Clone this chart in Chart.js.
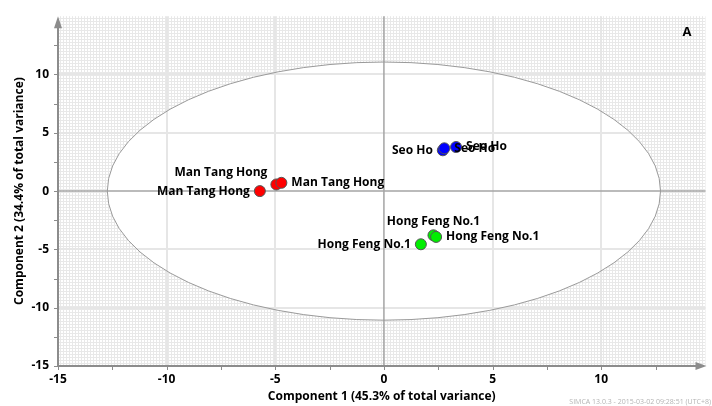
<!DOCTYPE html>
<html lang="en">
<head>
<meta charset="UTF-8">
<title>PCA Score Plot</title>
<style>
  html, body { margin: 0; padding: 0; background: #fff; }
  #wrap { width: 712px; height: 406px; }
</style>
</head>
<body>
<div id="wrap"><canvas id="score-plot" width="712" height="406"></canvas></div>

<script src="https://cdn.jsdelivr.net/npm/chart.js"></script>
<script>
// axis ticks
const xTicks = [-15, -10, -5, 0, 5, 10];
const yTicks = [-15, -10, -5, 0, 5, 10];
const minorTicks = [-12.5, -7.5, -2.5, 2.5, 7.5, 12.5];

// score values t[1], t[2] per cultivar
const manTangX = [-5.71, -4.95, -4.72];
const manTangY = [0.00, 0.57, 0.71];
const seoHoX = [2.71, 2.78, 3.32];
const seoHoY = [3.50, 3.67, 3.78];
const hongFengX = [1.70, 2.28, 2.40];
const hongFengY = [-4.56, -3.79, -3.93];

// label placement next to each point
const manTangSide = ['left', 'aboveLeft', 'right'];
const seoHoSide = ['left', 'right', 'right'];
const hongFengSide = ['left', 'above', 'right'];

// Hotelling T2 ellipse half-axes
const ellipseRadii = [12.73, 11.07];

const FONT = '"Open Sans", "DejaVu Sans", sans-serif';

function toPoints(xs, ys) {
    return xs.map((x, i) => ({ x: x, y: ys[i] }));
}

function makeSet(name, xs, ys, sides, color) {
    return {
        label: name,
        data: toPoints(xs, ys),
        sides: sides,
        backgroundColor: color,
        borderColor: '#555',
        borderWidth: 1,
        pointRadius: 5.5,
        pointHoverRadius: 5.5
    };
}

// fine mesh used behind the ellipse
function meshPattern(ctx) {
    const tile = document.createElement('canvas');
    tile.width = 3;
    tile.height = 3;
    const t = tile.getContext('2d');
    t.fillStyle = '#ffffff';
    t.fillRect(0, 0, 3, 3);
    t.fillStyle = '#e8e8e8';
    t.fillRect(0, 0, 3, 1);
    t.fillRect(0, 0, 1, 3);
    return ctx.createPattern(tile, 'repeat');
}

const backdrop = {
    id: 'backdrop',
    beforeDatasetsDraw(chart) {
        const { ctx, chartArea: a, scales: { x, y } } = chart;
        ctx.save();
        ctx.fillStyle = meshPattern(ctx);
        ctx.fillRect(a.left, a.top, a.right - a.left, a.bottom - a.top);

        const cx = x.getPixelForValue(0), cy = y.getPixelForValue(0);
        const rx = x.getPixelForValue(ellipseRadii[0]) - cx;
        const ry = cy - y.getPixelForValue(ellipseRadii[1]);
        ctx.beginPath();
        ctx.ellipse(cx, cy, rx, ry, 0, 0, Math.PI * 2);
        ctx.fillStyle = '#ffffff';
        ctx.fill();

        // major grid
        ctx.strokeStyle = '#e6e6e6';
        ctx.lineWidth = 2;
        xTicks.filter(v => v !== 0 && v !== xTicks[0]).forEach(v => {
            const px = Math.round(x.getPixelForValue(v));
            ctx.beginPath(); ctx.moveTo(px, a.top); ctx.lineTo(px, a.bottom); ctx.stroke();
        });
        yTicks.filter(v => v !== 0 && v !== yTicks[0]).forEach(v => {
            const py = Math.round(y.getPixelForValue(v));
            ctx.beginPath(); ctx.moveTo(a.left, py); ctx.lineTo(a.right, py); ctx.stroke();
        });

        // zero lines
        ctx.strokeStyle = '#a4a4a4';
        ctx.lineWidth = 1.5;
        ctx.beginPath(); ctx.moveTo(cx, a.top); ctx.lineTo(cx, a.bottom); ctx.stroke();
        ctx.beginPath(); ctx.moveTo(a.left, cy); ctx.lineTo(a.right, cy); ctx.stroke();

        // ellipse outline
        ctx.beginPath();
        ctx.ellipse(cx, cy, rx, ry, 0, 0, Math.PI * 2);
        ctx.strokeStyle = '#9a9a9a';
        ctx.lineWidth = 1;
        ctx.stroke();

        // axes with arrow heads
        ctx.strokeStyle = '#8c8c8c';
        ctx.fillStyle = '#8c8c8c';
        ctx.lineWidth = 2;
        ctx.beginPath(); ctx.moveTo(a.left, a.bottom); ctx.lineTo(a.right - 8, a.bottom); ctx.stroke();
        ctx.beginPath(); ctx.moveTo(a.left, a.bottom); ctx.lineTo(a.left, a.top + 8); ctx.stroke();
        ctx.beginPath();
        ctx.moveTo(a.right + 1, a.bottom);
        ctx.lineTo(a.right - 10, a.bottom - 4);
        ctx.lineTo(a.right - 10, a.bottom + 4);
        ctx.closePath(); ctx.fill();
        ctx.beginPath();
        ctx.moveTo(a.left, a.top);
        ctx.lineTo(a.left - 4, a.top + 12);
        ctx.lineTo(a.left + 4, a.top + 12);
        ctx.closePath(); ctx.fill();

        // tick marks
        ctx.lineWidth = 1;
        xTicks.concat(minorTicks).forEach(v => {
            const px = Math.round(x.getPixelForValue(v)) + 0.5;
            ctx.beginPath(); ctx.moveTo(px, a.bottom); ctx.lineTo(px, a.bottom + 4); ctx.stroke();
        });
        yTicks.concat(minorTicks).forEach(v => {
            const py = Math.round(y.getPixelForValue(v)) + 0.5;
            ctx.beginPath(); ctx.moveTo(a.left, py); ctx.lineTo(a.left - 4, py); ctx.stroke();
        });
        ctx.restore();
    }
};

const pointLabels = {
    id: 'pointLabels',
    afterDatasetsDraw(chart) {
        const { ctx } = chart;
        ctx.save();
        ctx.font = 'bold 12px ' + FONT;
        ctx.fillStyle = '#000';
        chart.data.datasets.forEach((ds, di) => {
            chart.getDatasetMeta(di).data.forEach((pt, i) => {
                const side = ds.sides[i];
                let tx = pt.x, ty = pt.y;
                ctx.textBaseline = 'middle';
                if (side === 'left') { ctx.textAlign = 'right'; tx -= 10; }
                else if (side === 'right') { ctx.textAlign = 'left'; tx += 10; }
                else if (side === 'above') { ctx.textAlign = 'center'; ty -= 14; }
                else { ctx.textAlign = 'right'; tx -= 9; ty -= 12; }
                ctx.fillText(ds.label, tx, ty);
            });
        });

        ctx.font = 'bold 13px ' + FONT;
        ctx.textAlign = 'center';
        ctx.fillText('A', 687, 32);

        ctx.font = '7px ' + FONT;
        ctx.fillStyle = '#b4b4b4';
        ctx.textAlign = 'right';
        ctx.fillText('SIMCA 13.0.3 - 2015-03-02 09:28:51 (UTC+8)', 711, 402);
        ctx.restore();
    }
};

new Chart(document.getElementById('score-plot'), {
    type: 'scatter',
    data: {
        datasets: [
            makeSet('Man Tang Hong', manTangX, manTangY, manTangSide, '#ff0000'),
            makeSet('Seo Ho', seoHoX, seoHoY, seoHoSide, '#0000ff'),
            makeSet('Hong Feng No.1', hongFengX, hongFengY, hongFengSide, '#00ee00')
        ]
    },
    options: {
        responsive: false,
        devicePixelRatio: 1,
        animation: false,
        layout: { padding: { top: 14, right: 1, left: 0, bottom: 0 } },
        plugins: {
            legend: { display: false },
            tooltip: { enabled: false }
        },
        scales: {
            x: {
                type: 'linear',
                min: -15,
                max: 14.8,
                afterBuildTicks: s => { s.ticks = xTicks.map(v => ({ value: v })); },
                afterFit: s => { s.height = 40; },
                grid: { drawOnChartArea: false, drawTicks: false, color: 'transparent' },
                border: { display: false },
                ticks: {
                    padding: 6,
                    color: '#000',
                    font: { family: FONT, size: 12, weight: 'bold' }
                },
                title: {
                    display: true,
                    text: 'Component 1 (45.3% of total variance)',
                    color: '#000',
                    padding: { top: 0, bottom: 2 },
                    font: { family: FONT, size: 12, weight: 'bold' }
                }
            },
            y: {
                type: 'linear',
                min: -15,
                max: 15,
                afterBuildTicks: s => { s.ticks = yTicks.map(v => ({ value: v })); },
                afterFit: s => { s.width = 58; },
                grid: { drawOnChartArea: false, drawTicks: false, color: 'transparent' },
                border: { display: false },
                ticks: {
                    padding: 9,
                    color: '#000',
                    font: { family: FONT, size: 12, weight: 'bold' }
                },
                title: {
                    display: true,
                    text: 'Component 2 (34.4% of total variance)',
                    color: '#000',
                    padding: { top: 12, bottom: 0 },
                    font: { family: FONT, size: 12, weight: 'bold' }
                }
            }
        }
    },
    plugins: [backdrop, pointLabels]
});
</script>
</body>
</html>
